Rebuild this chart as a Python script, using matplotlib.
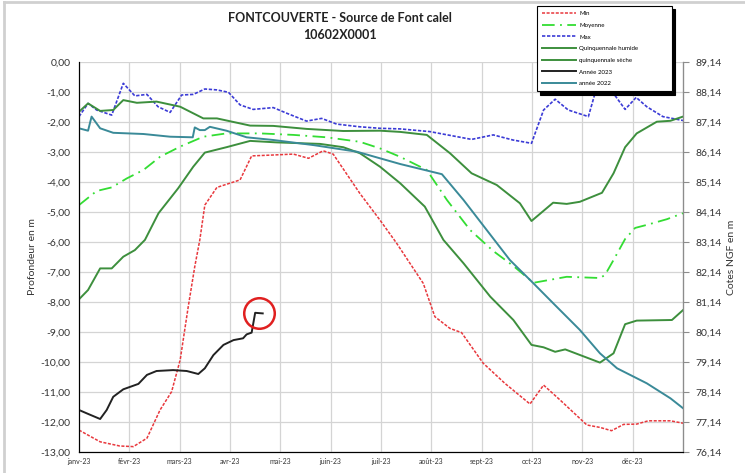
import matplotlib
matplotlib.use("Agg")
import matplotlib.pyplot as plt
from matplotlib.lines import Line2D
from matplotlib.ticker import FuncFormatter, FixedLocator

plt.rcParams['font.family'] = ['Lato', 'DejaVu Sans']

# x positions expressed in months since 1 Jan 2023 (0 = janv, 12 = end of déc)
months = ['janv-23', 'févr-23', 'mars-23', 'avr-23', 'mai-23', 'juin-23',
          'juil-23', 'août-23', 'sept-23', 'oct-23', 'nov-23', 'déc-23']

min_x = [0, 0.42, 0.81, 1.08, 1.35, 1.61, 1.84, 2.01, 2.17, 2.30, 2.40, 2.50, 2.74, 3.20,
         3.43, 3.86, 4.26, 4.56, 4.85, 5.05, 5.58, 5.98, 6.31, 6.84, 7.07, 7.37, 7.60, 8.03,
         8.46, 8.96, 9.23, 9.56, 10.09, 10.35, 10.58, 10.82, 11.08, 11.31, 11.75, 12.0]
min_y = [-12.27, -12.66, -12.80, -12.82, -12.54, -11.60, -10.99, -9.93, -8.16, -6.82, -5.93,
         -4.77, -4.18, -3.93, -3.13, -3.10, -3.07, -3.21, -2.96, -3.07, -4.38, -5.27, -6.04,
         -7.38, -8.49, -8.88, -9.02, -10.04, -10.71, -11.40, -10.77, -11.27, -12.10, -12.18,
         -12.29, -12.08, -12.07, -11.96, -11.96, -12.04]

moy_x = [0, 0.35, 0.65, 0.95, 1.28, 1.61, 2.01, 2.47, 2.93, 3.60, 4.26, 4.92, 5.58, 5.98,
         6.38, 6.91, 7.31, 7.77, 8.23, 8.63, 9.03, 9.69, 10.35, 10.45, 10.62, 10.85, 11.05,
         11.28, 11.68, 12.0]
moy_y = [-4.77, -4.30, -4.18, -3.88, -3.60, -3.16, -2.82, -2.49, -2.38, -2.38, -2.43, -2.51,
         -2.66, -2.88, -3.16, -3.60, -4.60, -5.60, -6.30, -6.80, -7.36, -7.16, -7.20, -7.10,
         -6.60, -5.90, -5.53, -5.43, -5.24, -5.04]

max_x = [0, 0.18, 0.35, 0.65, 0.88, 1.11, 1.35, 1.57, 1.81, 2.04, 2.27, 2.50, 2.74, 2.97,
         3.20, 3.46, 3.86, 4.13, 4.52, 4.82, 5.12, 5.58, 5.98, 6.38, 6.97, 7.80, 8.23, 8.62,
         8.99, 9.23, 9.46, 9.72, 10.12, 10.29, 10.45, 10.62, 10.85, 11.07, 11.28, 11.60, 12.0]
max_y = [-1.82, -1.38, -1.60, -1.77, -0.71, -1.13, -1.08, -1.49, -1.68, -1.10, -1.08, -0.90,
         -0.93, -1.01, -1.43, -1.58, -1.52, -1.71, -1.97, -1.88, -2.07, -2.16, -2.21, -2.23,
         -2.32, -2.58, -2.43, -2.60, -2.71, -1.60, -1.24, -1.60, -1.82, -0.82, -0.50, -1.05,
         -1.58, -1.18, -1.49, -1.82, -1.95]

hum_x = [0, 0.18, 0.42, 0.68, 0.88, 1.15, 1.54, 2.01, 2.47, 2.74, 3.40, 3.86, 4.52, 5.25,
         5.98, 6.38, 6.91, 7.37, 7.80, 8.30, 8.76, 8.99, 9.42, 9.69, 9.95, 10.39, 10.62,
         10.85, 11.08, 11.48, 11.75, 12.0]
hum_y = [-1.66, -1.38, -1.63, -1.60, -1.27, -1.36, -1.32, -1.49, -1.88, -1.88, -2.12, -2.13,
         -2.23, -2.30, -2.29, -2.33, -2.43, -3.04, -3.71, -4.10, -4.71, -5.30, -4.69, -4.73,
         -4.66, -4.36, -3.71, -2.84, -2.38, -1.99, -1.96, -1.82]

sec_x = [0, 0.18, 0.42, 0.65, 0.88, 1.11, 1.31, 1.58, 1.97, 2.27, 2.50, 2.93, 3.40, 3.93,
         4.79, 5.25, 5.58, 5.98, 6.38, 6.87, 7.24, 7.64, 8.17, 8.63, 8.99, 9.23, 9.46, 9.66,
         10.35, 10.62, 10.85, 11.08, 11.78, 12.0]
sec_y = [-7.91, -7.60, -6.88, -6.88, -6.49, -6.27, -5.93, -5.04, -4.21, -3.49, -3.02, -2.84,
         -2.63, -2.68, -2.73, -2.84, -3.04, -3.49, -4.04, -4.82, -5.93, -6.71, -7.82, -8.60,
         -9.43, -9.51, -9.66, -9.58, -10.02, -9.71, -8.74, -8.62, -8.60, -8.27]

y2023_x = [0, 0.18, 0.42, 0.55, 0.68, 0.88, 1.18, 1.35, 1.54, 1.87, 2.14, 2.37, 2.50, 2.67,
           2.87, 3.07, 3.26, 3.33, 3.43, 3.50, 3.65]
y2023_y = [-11.60, -11.73, -11.90, -11.60, -11.16, -10.91, -10.73, -10.43, -10.30, -10.27,
           -10.30, -10.40, -10.21, -9.77, -9.43, -9.27, -9.21, -9.08, -9.02, -8.36, -8.38]

y2022_x = [0, 0.18, 0.25, 0.42, 0.68, 1.28, 1.81, 2.26, 2.30, 2.40, 2.50, 2.60, 2.93, 3.33,
           3.86, 4.66, 5.52, 5.98, 6.38, 7.21, 7.64, 8.10, 8.56, 9.03, 9.42, 9.95, 10.35,
           10.69, 11.28, 11.75, 12.0]
y2022_y = [-2.21, -2.29, -1.82, -2.21, -2.36, -2.40, -2.49, -2.51, -2.18, -2.27, -2.27, -2.16,
           -2.29, -2.51, -2.60, -2.77, -2.99, -3.21, -3.40, -3.74, -4.60, -5.60, -6.60, -7.38,
           -8.04, -8.93, -9.71, -10.21, -10.71, -11.21, -11.54]

ngf_offset = 89.14
left_ticks = list(range(0, -14, -1))

fig = plt.figure(figsize=(7.45, 4.73), dpi=100)
ax = fig.add_axes([79 / 745, 1 - 452 / 473, 604 / 745, 390 / 473])

ax.plot(min_x, min_y, color='#e8383d', lw=1.1, ls=(0, (2, 1)), label='Min')
ax.plot(moy_x, moy_y, color='#33dd33', lw=1.3, ls=(0, (7, 3, 1, 3)), label='Moyenne')
ax.plot(max_x, max_y, color='#3b3bd6', lw=1.2, ls=(0, (2, 1)), label='Max')
ax.plot(hum_x, hum_y, color='#3d8f3d', lw=1.4, label='Quinquennale humide')
ax.plot(sec_x, sec_y, color='#3d8f3d', lw=1.4, label='quinquennale sèche')
ax.plot(y2023_x, y2023_y, color='#222222', lw=1.4, label='Année 2023')
ax.plot(y2022_x, y2022_y, color='#3a8a98', lw=1.4, label='année 2022')

# red circle highlighting the latest 2023 measurement
cx = (y2023_x[-1] + y2023_x[-2]) / 2
ax.plot([cx], [y2023_y[-1]], marker='o', ms=22, mfc='none', mec='#e02020', mew=1.8,
        ls='none', zorder=4)

ax.set_xlim(0, 12)
ax.set_ylim(-13, 0)
ax.set_xticks(range(12))
ax.set_xticklabels(months, fontsize=5)
ax.set_yticks(left_ticks)
ax.yaxis.set_major_formatter(FuncFormatter(lambda v, p: f"{v:.2f}".replace('.', ',')))
ax.tick_params(axis='y', labelsize=7.5, length=0, pad=6, colors='#333333')
ax.tick_params(axis='x', length=0, pad=4, colors='#333333')
ax.grid(True, color='#d4d4d4', lw=0.9)
ax.set_axisbelow(True)
ax.spines['top'].set_visible(False)
for s in ['left', 'bottom', 'right']:
    ax.spines[s].set_color('#8c8c8c')
    ax.spines[s].set_linewidth(0.9)
ax.set_ylabel('Profondeur en m', fontsize=7.5, color='#333333', labelpad=3)

ax2 = ax.twinx()
ax2.set_ylim(-13 + ngf_offset, 0 + ngf_offset)
ax2.yaxis.set_major_locator(FixedLocator([v + ngf_offset for v in left_ticks]))
ax2.yaxis.set_major_formatter(FuncFormatter(lambda v, p: f"{v:.2f}".replace('.', ',')))
ax2.tick_params(axis='y', labelsize=7.5, length=4, width=0.8, color='#8c8c8c',
                pad=5, labelcolor='#333333')
ax2.spines['top'].set_visible(False)
ax2.spines['right'].set_color('#8c8c8c')
ax2.set_ylabel('Cotes NGF en m', fontsize=7.5, color='#333333', labelpad=4)

fig.text(340 / 745, 1 - 18 / 473, 'FONTCOUVERTE - Source de Font calel', ha='center',
         va='center', fontsize=9, fontweight='bold', color='#222222')
fig.text(340 / 745, 1 - 35 / 473, '10602X0001', ha='center', va='center', fontsize=9,
         fontweight='bold', color='#222222')

handles, labels = ax.get_legend_handles_labels()
leg = fig.legend(handles, labels, loc='upper left',
                 bbox_to_anchor=(537 / 745, 1 - 94 / 473, 135 / 745, 88 / 473),
                 mode='expand', fontsize=4.4, handlelength=5.6, labelspacing=1.05,
                 borderpad=0.8, borderaxespad=0, handletextpad=0.5, frameon=True,
                 fancybox=False,
                 shadow={'color': 'black', 'alpha': 1.0, 'ox': 2.5, 'oy': -2.5})
leg.get_frame().set_edgecolor('black')
leg.get_frame().set_linewidth(0.8)
leg.set_zorder(10)

# light chart-area border
fig.add_artist(Line2D([4 / 745, 4 / 745], [0, 1 - 2 / 473], color='#d0d0d0', lw=2))
fig.add_artist(Line2D([4 / 745, 1], [1 - 2 / 473, 1 - 2 / 473], color='#d0d0d0', lw=2))

fig.savefig('out.png', dpi=100)
